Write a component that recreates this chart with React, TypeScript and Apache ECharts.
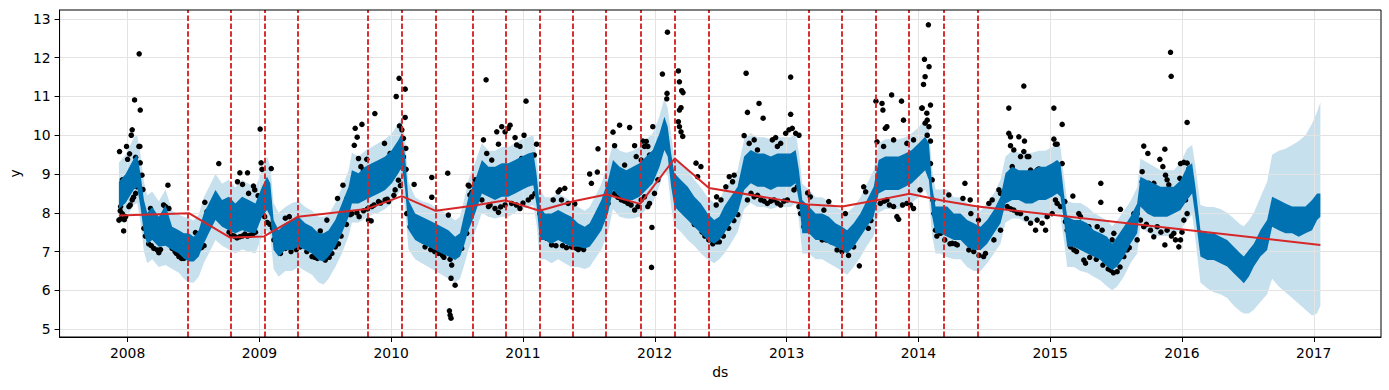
import React, { useEffect, useRef } from "react";
import * as echarts from "echarts";

// ---- axis ticks ----
const xTicks = [2008, 2009, 2010, 2011, 2012, 2013, 2014, 2015, 2016, 2017];
const yTicks = [5, 6, 7, 8, 9, 10, 11, 12, 13];

// ---- forecast band knots (decimal year) ----
const knotX = [
  2007.934, 2007.985, 2008.048, 2008.073, 2008.098, 2008.124, 2008.149, 2008.187, 2008.237, 2008.288,
  2008.338, 2008.389, 2008.427, 2008.465, 2008.502, 2008.54, 2008.578, 2008.616, 2008.667, 2008.717,
  2008.768, 2008.818, 2008.869, 2008.919, 2008.97, 2009.02, 2009.058, 2009.083, 2009.108, 2009.146,
  2009.197, 2009.247, 2009.298, 2009.348, 2009.399, 2009.449, 2009.487, 2009.525, 2009.576, 2009.626,
  2009.677, 2009.702, 2009.752, 2009.803, 2009.853, 2009.904, 2009.954, 2010.005, 2010.055, 2010.081,
  2010.106, 2010.131, 2010.182, 2010.232, 2010.283, 2010.333, 2010.384, 2010.434, 2010.485, 2010.522,
  2010.55, 2010.587, 2010.637, 2010.688, 2010.738, 2010.788, 2010.839, 2010.889, 2010.94, 2010.99,
  2011.04, 2011.078, 2011.103, 2011.128, 2011.166, 2011.217, 2011.267, 2011.317, 2011.368, 2011.418,
  2011.469, 2011.506, 2011.544, 2011.595, 2011.645, 2011.683, 2011.733, 2011.784, 2011.834, 2011.884,
  2011.935, 2011.985, 2012.036, 2012.073, 2012.098, 2012.124, 2012.149, 2012.2, 2012.25, 2012.3,
  2012.35, 2012.401, 2012.451, 2012.489, 2012.527, 2012.577, 2012.628, 2012.678, 2012.728, 2012.779,
  2012.829, 2012.88, 2012.93, 2012.98, 2013.031, 2013.069, 2013.094, 2013.119, 2013.169, 2013.22,
  2013.27, 2013.32, 2013.371, 2013.421, 2013.459, 2013.509, 2013.56, 2013.61, 2013.661, 2013.698,
  2013.749, 2013.799, 2013.85, 2013.9, 2013.95, 2014.001, 2014.051, 2014.08, 2014.105, 2014.13,
  2014.168, 2014.219, 2014.269, 2014.32, 2014.37, 2014.421, 2014.472, 2014.522, 2014.573, 2014.623,
  2014.661, 2014.712, 2014.762, 2014.813, 2014.863, 2014.914, 2014.965, 2015.015, 2015.053, 2015.078,
  2015.104, 2015.129, 2015.18, 2015.23, 2015.281, 2015.331, 2015.382, 2015.432, 2015.47, 2015.508,
  2015.559, 2015.609, 2015.66, 2015.685, 2015.736, 2015.786, 2015.837, 2015.887, 2015.938, 2015.989,
  2016.039, 2016.077, 2016.102, 2016.14, 2016.191, 2016.241, 2016.292, 2016.343, 2016.393, 2016.444,
  2016.469, 2016.507, 2016.545, 2016.595, 2016.646, 2016.684, 2016.734, 2016.785, 2016.836, 2016.886,
  2016.937, 2016.987, 2017.025, 2017.05,
];

// upper envelope of yhat (dark band top)
const yhatHigh = [
  8.8, 9.0, 9.4, 9.5, 9.0, 8.33, 8.0, 8.15, 7.9, 8.2,
  7.64, 7.55, 7.47, 7.47, 7.38, 7.55, 7.98, 8.24, 8.59, 8.33,
  8.41, 8.24, 8.41, 8.33, 8.24, 8.67, 8.93, 8.76, 7.81, 7.55,
  7.73, 7.81, 7.9, 7.73, 7.64, 7.47, 7.47, 7.55, 7.81, 8.24,
  8.67, 9.1, 9.02, 9.19, 9.28, 9.36, 9.45, 9.62, 9.88, 10.05,
  9.45, 8.33, 7.98, 7.9, 7.81, 7.73, 7.64, 7.55, 7.38, 7.47,
  7.9, 8.41, 8.84, 9.36, 9.19, 9.19, 9.28, 9.28, 9.36, 9.45,
  9.53, 9.57, 9.0, 8.16, 7.98, 7.98, 8.07, 7.98, 7.9, 7.73,
  7.64, 7.73, 7.98, 8.33, 8.84, 9.36, 9.19, 9.1, 9.19, 9.28,
  9.45, 9.62, 10.05, 10.48, 10.22, 9.53, 9.02, 8.84, 8.67, 8.41,
  8.24, 7.98, 7.81, 7.9, 8.16, 8.41, 8.67, 9.45, 9.62, 9.53,
  9.53, 9.45, 9.53, 9.53, 9.53, 9.62, 9.1, 8.33, 8.16, 7.98,
  7.98, 7.9, 7.73, 7.64, 7.55, 7.73, 7.98, 8.33, 8.67, 9.36,
  9.45, 9.45, 9.45, 9.53, 9.62, 9.79, 9.96, 9.79, 8.67, 8.16,
  8.16, 8.16, 7.98, 7.98, 7.81, 7.73, 7.64, 7.81, 8.07, 8.41,
  9.02, 9.19, 9.1, 9.1, 9.1, 9.19, 9.19, 9.28, 9.36, 9.28,
  8.5, 7.9, 7.81, 7.81, 7.73, 7.55, 7.47, 7.38, 7.2, 7.38,
  7.64, 7.9, 8.24, 8.93, 8.84, 8.76, 8.67, 8.67, 8.67, 8.84,
  9.19, 9.28, 8.67, 7.55, 7.47, 7.47, 7.38, 7.3, 7.12, 6.95,
  6.87, 7.04, 7.2, 7.55, 7.81, 8.41, 8.33, 8.24, 8.16, 8.16,
  8.16, 8.33, 8.5, 8.5,
];

// lower envelope of yhat (dark band bottom)
const yhatLow = [
  8.1, 8.25, 8.6, 8.65, 8.15, 7.47, 7.2, 7.3, 7.12, 7.15,
  7.04, 6.95, 6.82, 6.74, 6.74, 6.87, 7.2, 7.47, 7.81, 7.64,
  7.55, 7.47, 7.55, 7.5, 7.47, 7.9, 8.07, 7.9, 7.04, 6.87,
  7.04, 7.04, 7.12, 7.04, 6.95, 6.78, 6.74, 6.87, 7.12, 7.47,
  7.9, 8.24, 8.24, 8.33, 8.41, 8.5, 8.59, 8.76, 9.02, 9.19,
  8.6, 7.56, 7.3, 7.2, 7.12, 7.04, 6.95, 6.87, 6.78, 6.87,
  7.12, 7.55, 7.98, 8.5, 8.41, 8.33, 8.41, 8.41, 8.5, 8.59,
  8.67, 8.71, 8.2, 7.3, 7.3, 7.2, 7.3, 7.2, 7.12, 7.12,
  7.08, 7.12, 7.3, 7.55, 7.98, 8.59, 8.41, 8.33, 8.33, 8.41,
  8.59, 8.76, 9.19, 9.62, 9.45, 8.67, 8.16, 7.98, 7.81, 7.64,
  7.47, 7.3, 7.2, 7.3, 7.47, 7.73, 7.98, 8.59, 8.76, 8.67,
  8.67, 8.59, 8.67, 8.67, 8.67, 8.76, 8.3, 7.47, 7.47, 7.3,
  7.3, 7.2, 7.12, 7.04, 6.95, 7.12, 7.38, 7.64, 7.9, 8.5,
  8.59, 8.59, 8.59, 8.67, 8.76, 8.93, 9.1, 8.84, 7.9, 7.47,
  7.47, 7.38, 7.3, 7.3, 7.12, 7.04, 7.04, 7.2, 7.47, 7.73,
  8.24, 8.33, 8.33, 8.24, 8.24, 8.33, 8.33, 8.41, 8.5, 8.41,
  7.81, 7.12, 7.12, 7.04, 6.95, 6.87, 6.78, 6.61, 6.52, 6.61,
  6.87, 7.2, 7.47, 8.16, 7.98, 7.9, 7.9, 7.9, 7.98, 8.07,
  8.33, 8.5, 7.9, 6.87, 6.78, 6.78, 6.7, 6.61, 6.44, 6.27,
  6.18, 6.35, 6.61, 6.87, 7.04, 7.64, 7.55, 7.47, 7.47, 7.38,
  7.47, 7.55, 7.81, 7.9,
];

// uncertainty interval upper bound (light band top)
const yhatUpper = [
  9.3, 9.5, 9.95, 10.0, 9.5, 8.8, 8.45, 8.55, 8.3, 8.6,
  8.05, 7.95, 7.9, 7.85, 7.8, 7.95, 8.4, 8.65, 9.0, 8.75,
  8.85, 8.65, 8.85, 8.75, 8.65, 9.1, 9.45, 9.2, 8.25, 8.0,
  8.15, 8.25, 8.3, 8.15, 8.05, 7.9, 7.9, 7.95, 8.25, 8.65,
  9.1, 9.55, 9.45, 9.6, 9.7, 9.8, 9.9, 10.05, 10.3, 10.45,
  9.9, 8.8, 8.4, 8.3, 8.25, 8.15, 8.05, 7.95, 7.8, 7.9,
  8.3, 8.85, 9.3, 9.8, 9.6, 9.6, 9.7, 9.7, 9.8, 9.9,
  9.95, 10.0, 9.45, 8.6, 8.4, 8.4, 8.5, 8.4, 8.3, 8.15,
  8.05, 8.15, 8.4, 8.75, 9.3, 9.8, 9.6, 9.55, 9.6, 9.7,
  9.9, 10.05, 10.5, 10.95, 10.7, 10.0, 9.45, 9.3, 9.1, 8.85,
  8.65, 8.4, 8.25, 8.3, 8.6, 8.85, 9.1, 9.9, 10.05, 9.95,
  9.95, 9.9, 9.95, 9.95, 9.95, 10.05, 9.55, 8.75, 8.6, 8.4,
  8.4, 8.3, 8.15, 8.05, 8.0, 8.15, 8.4, 8.75, 9.1, 9.8,
  9.9, 9.9, 9.9, 9.95, 10.05, 10.2, 10.4, 10.2, 9.1, 8.6,
  8.6, 8.6, 8.4, 8.4, 8.25, 8.15, 8.05, 8.25, 8.5, 8.85,
  9.45, 9.6, 9.55, 9.55, 9.55, 9.6, 9.6, 9.7, 9.8, 9.7,
  8.95, 8.3, 8.25, 8.25, 8.15, 8.0, 7.9, 7.8, 7.65, 7.8,
  8.05, 8.3, 8.65, 9.4, 9.3, 9.2, 9.1, 9.1, 9.1, 9.3,
  9.65, 9.75, 9.2, 8.2, 8.15, 8.15, 8.1, 8.0, 7.85, 7.7,
  7.65, 7.8, 8.0, 8.4, 8.8, 9.5, 9.6, 9.65, 9.75, 9.85,
  10.0, 10.3, 10.6, 10.85,
];

// uncertainty interval lower bound (light band bottom)
const yhatLower = [
  7.7, 7.85, 8.2, 8.25, 7.75, 7.0, 6.7, 6.8, 6.6, 6.65,
  6.55, 6.45, 6.3, 6.2, 6.2, 6.35, 6.7, 6.95, 7.3, 7.15,
  7.05, 6.95, 7.05, 7.0, 6.95, 7.4, 7.55, 7.4, 6.55, 6.35,
  6.5, 6.5, 6.6, 6.5, 6.4, 6.2, 6.15, 6.3, 6.6, 6.95,
  7.4, 7.75, 7.75, 7.85, 7.95, 8.0, 8.1, 8.25, 8.5, 8.65,
  8.1, 7.05, 6.8, 6.7, 6.6, 6.5, 6.4, 6.3, 6.2, 6.3,
  6.6, 7.05, 7.5, 8.0, 7.9, 7.85, 7.9, 7.9, 8.0, 8.1,
  8.15, 8.2, 7.7, 6.8, 6.8, 6.7, 6.8, 6.7, 6.6, 6.6,
  6.55, 6.6, 6.8, 7.05, 7.5, 8.1, 7.9, 7.85, 7.85, 7.9,
  8.1, 8.25, 8.7, 9.1, 8.95, 8.15, 7.65, 7.5, 7.3, 7.15,
  6.95, 6.8, 6.7, 6.8, 6.95, 7.2, 7.5, 8.1, 8.25, 8.15,
  8.15, 8.1, 8.15, 8.15, 8.15, 8.25, 7.8, 6.95, 6.95, 6.8,
  6.8, 6.7, 6.6, 6.5, 6.4, 6.6, 6.85, 7.15, 7.4, 8.0,
  8.1, 8.1, 8.1, 8.15, 8.25, 8.4, 8.6, 8.35, 7.4, 6.95,
  6.95, 6.85, 6.8, 6.8, 6.6, 6.5, 6.5, 6.7, 6.95, 7.2,
  7.75, 7.85, 7.85, 7.75, 7.75, 7.85, 7.85, 7.9, 8.0, 7.9,
  7.3, 6.6, 6.6, 6.5, 6.45, 6.35, 6.25, 6.1, 6.0, 6.1,
  6.35, 6.7, 6.95, 7.65, 7.5, 7.4, 7.4, 7.4, 7.45, 7.55,
  7.8, 7.95, 7.3, 6.2, 6.05, 5.95, 5.9, 5.8, 5.6, 5.45,
  5.4, 5.4, 5.5, 5.7, 5.9, 6.3, 6.1, 5.95, 5.8, 5.65,
  5.5, 5.35, 5.4, 5.6,
];

// ---- trend and changepoints ----
const trendX = [
  2007.934, 2008.465, 2008.778, 2009.035, 2009.293, 2009.816, 2010.081, 2010.338, 2010.62, 2010.869,
  2011.126, 2011.375, 2011.632, 2011.889, 2012.151, 2012.411, 2013.169, 2013.424, 2013.681, 2013.933,
  2014.188, 2014.449, 2017.05,
];
const trendY = [
  7.93, 7.99, 7.36, 7.39, 7.9, 8.1, 8.43, 8.05, 8.18, 8.32,
  8.05, 8.29, 8.47, 8.23, 9.4, 8.64, 8.21, 8.16, 8.32, 8.49,
  8.31, 8.16, 7.17,
];
const changepoints = [
  2008.465, 2008.778, 2009.035, 2009.293, 2009.816, 2010.081, 2010.338, 2010.62, 2010.869, 2011.126,
  2011.375, 2011.632, 2011.889, 2012.151, 2012.411, 2013.169, 2013.424, 2013.681, 2013.933, 2014.188,
  2014.449,
];

// ---- observed points visible outside the forecast band: [decimal year, y] ----
const observed: [number, number][] = [
  [2007.939, 9.58], [2007.96, 8.85], [2007.992, 9.71], [2008.0, 9.38], [2008.015, 9.52], [2008.028, 10.0],
  [2008.035, 10.14], [2008.053, 10.91], [2008.061, 9.43], [2008.088, 12.1], [2008.096, 10.65], [2008.086, 9.71],
  [2008.093, 9.71], [2008.096, 9.29], [2008.109, 8.97], [2008.116, 8.6], [2007.97, 7.53], [2007.947, 8.16],
  [2007.934, 7.81], [2007.96, 7.98], [2007.985, 7.9], [2008.01, 8.16], [2008.035, 8.33], [2008.061, 8.5],
  [2008.073, 8.67], [2007.944, 8.05], [2007.95, 7.85], [2007.975, 7.82], [2008.02, 8.2], [2008.045, 8.4],
  [2008.124, 7.6], [2008.135, 7.4], [2008.174, 8.11], [2008.306, 8.71], [2008.273, 8.2], [2008.288, 8.16],
  [2008.313, 8.11], [2008.199, 7.08], [2008.225, 7.04], [2008.237, 6.97], [2008.16, 7.2], [2008.18, 7.15],
  [2008.25, 7.05], [2008.338, 7.08], [2008.36, 7.0], [2008.389, 6.87], [2008.427, 6.82], [2008.44, 6.85],
  [2008.515, 7.49], [2008.54, 7.3], [2008.586, 8.27], [2008.603, 8.03], [2008.56, 7.1], [2008.58, 7.15],
  [2008.47, 6.9], [2008.37, 6.95], [2008.41, 6.82], [2008.692, 9.27], [2008.69, 7.9],
  [2008.77, 7.5], [2008.79, 7.42], [2008.81, 7.4], [2008.83, 7.35], [2008.85, 7.38], [2008.87, 7.4],
  [2008.89, 7.45], [2008.91, 7.4], [2008.93, 7.42], [2008.95, 7.45], [2008.97, 7.5],
  [2008.834, 8.8], [2008.852, 9.03], [2008.872, 8.73], [2008.91, 9.03], [2008.918, 8.5], [2008.955, 8.69],
  [2008.965, 8.59], [2008.99, 8.44], [2009.006, 10.16], [2009.013, 9.29], [2009.02, 9.12], [2009.09, 9.14],
  [2009.02, 8.1], [2009.04, 7.9], [2009.06, 7.75], [2009.08, 7.7], [2009.1, 7.6], [2009.11, 7.3],
  [2009.121, 7.47], [2009.146, 7.08], [2009.197, 7.08], [2009.222, 7.64], [2009.197, 7.86], [2009.227, 7.9],
  [2009.26, 7.64], [2009.31, 7.12], [2009.399, 6.87], [2009.462, 7.53], [2009.475, 6.87], [2009.512, 7.81],
  [2009.576, 7.12], [2009.601, 7.64], [2009.593, 8.37], [2009.634, 8.71], [2009.664, 8.37],
  [2009.36, 7.0], [2009.42, 6.85], [2009.44, 6.82], [2009.5, 6.78], [2009.53, 6.85], [2009.55, 6.95],
  [2009.6, 7.2], [2009.62, 7.4], [2009.16, 6.95], [2009.24, 7.0], [2009.28, 7.05],
  [2009.702, 7.98], [2009.727, 8.33], [2009.72, 9.74], [2009.727, 10.18], [2009.742, 9.95], [2009.778, 10.28],
  [2009.752, 9.4], [2009.77, 9.19], [2009.79, 9.1], [2009.815, 9.38], [2009.876, 10.56], [2009.843, 9.06],
  [2009.879, 8.97], [2009.757, 7.9], [2009.828, 7.81], [2009.848, 7.79], [2009.853, 8.16], [2009.904, 8.29],
  [2009.954, 8.33], [2009.98, 8.29], [2009.949, 9.79], [2009.992, 9.53], [2010.038, 11.0], [2010.06, 11.47],
  [2010.106, 11.19], [2010.106, 10.46], [2010.063, 10.24], [2010.081, 10.14], [2010.093, 9.92], [2010.111, 9.66],
  [2010.093, 9.44], [2010.068, 9.19], [2010.03, 8.59], [2010.055, 8.84], [2010.113, 9.12],
  [2009.66, 7.7], [2009.69, 7.95], [2009.74, 8.0], [2009.79, 8.05], [2009.82, 8.1], [2009.87, 8.2],
  [2009.92, 8.25], [2009.97, 8.35], [2010.02, 8.45], [2010.07, 8.7],
  [2010.174, 8.73], [2010.308, 8.91], [2010.308, 8.4], [2010.118, 7.98], [2010.144, 7.64], [2010.194, 7.55],
  [2010.219, 7.37], [2010.257, 7.12], [2010.283, 7.47], [2010.429, 9.02], [2010.434, 7.94], [2010.447, 6.8],
  [2010.459, 6.65], [2010.454, 6.31], [2010.485, 6.13], [2010.442, 5.47], [2010.447, 5.36], [2010.454, 5.28],
  [2010.472, 7.04], [2010.497, 6.95], [2010.535, 7.08], [2010.573, 7.47], [2010.585, 8.71], [2010.597, 8.46],
  [2010.3, 7.05], [2010.33, 7.0], [2010.36, 6.95], [2010.39, 6.9], [2010.4, 6.85],
  [2010.562, 7.47], [2010.592, 8.69], [2010.612, 8.53], [2010.637, 8.85], [2010.65, 8.67], [2010.7, 9.88],
  [2010.72, 11.43], [2010.725, 9.53], [2010.763, 9.36], [2010.801, 10.09], [2010.814, 9.77], [2010.839, 10.22],
  [2010.864, 10.09], [2010.889, 10.18], [2010.902, 10.26], [2010.94, 9.94], [2010.952, 9.75], [2010.977, 9.71],
  [2011.008, 10.0], [2011.023, 10.88], [2010.99, 9.4], [2011.103, 9.77], [2011.086, 9.49],
  [2010.688, 8.33], [2010.738, 8.16], [2010.788, 8.11], [2010.814, 8.01], [2010.864, 8.2], [2010.914, 8.24],
  [2010.977, 8.11], [2011.04, 8.33], [2011.066, 8.41], [2011.091, 8.5], [2010.75, 8.2], [2010.83, 8.15],
  [2010.95, 8.2], [2011.0, 8.25],
  [2011.128, 7.98], [2011.141, 7.47], [2011.179, 7.34], [2011.204, 7.3], [2011.217, 7.17], [2011.229, 8.33],
  [2011.267, 8.54], [2011.28, 8.59], [2011.317, 8.63], [2011.292, 8.33], [2011.343, 8.24], [2011.393, 8.23],
  [2011.368, 7.12], [2011.406, 7.08], [2011.443, 7.12], [2011.481, 7.21], [2011.506, 9.0], [2011.519, 8.76],
  [2011.564, 9.05], [2011.569, 9.65], [2011.532, 7.47], [2011.557, 7.55], [2011.595, 7.9], [2011.607, 8.07],
  [2011.25, 7.15], [2011.3, 7.15], [2011.33, 7.1], [2011.42, 7.05], [2011.46, 7.05],
  [2011.645, 8.24], [2011.683, 10.08], [2011.695, 9.73], [2011.733, 10.26], [2011.771, 9.23], [2011.809, 10.2],
  [2011.847, 9.73], [2011.859, 9.45], [2011.897, 9.36], [2011.91, 9.85], [2011.922, 9.71], [2011.935, 9.84],
  [2011.947, 9.71], [2011.96, 9.49], [2011.985, 9.45], [2011.985, 10.22],
  [2011.695, 8.5], [2011.746, 8.33], [2011.796, 8.24], [2011.847, 8.07], [2011.872, 8.16], [2011.897, 8.33],
  [2011.922, 8.41], [2011.947, 8.16], [2011.72, 8.4], [2011.77, 8.3], [2011.82, 8.2],
  [2011.978, 7.62], [2011.975, 6.59], [2011.96, 8.24], [2011.998, 8.5], [2012.023, 8.85],
  [2012.058, 11.58], [2012.096, 12.66], [2012.093, 11.08], [2012.091, 10.94], [2012.061, 9.71],
  [2012.179, 11.66], [2012.187, 11.38], [2012.204, 11.15], [2012.214, 11.1], [2012.199, 10.71], [2012.187, 10.65],
  [2012.179, 10.35], [2012.187, 10.22], [2012.199, 10.09], [2012.212, 9.97], [2012.313, 9.28], [2012.35, 9.19],
  [2012.325, 8.93],
  [2012.16, 8.5], [2012.19, 8.3], [2012.22, 8.25], [2012.26, 8.0], [2012.29, 7.85], [2012.3, 7.7],
  [2012.33, 7.65], [2012.36, 7.5], [2012.38, 7.4], [2012.41, 7.3], [2012.44, 7.2], [2012.47, 7.25],
  [2012.469, 8.41], [2012.466, 8.2], [2012.502, 8.33], [2012.539, 8.67], [2012.565, 8.93], [2012.59, 8.8],
  [2012.602, 8.97], [2012.49, 7.25], [2012.52, 7.4], [2012.56, 7.6], [2012.6, 7.8], [2012.63, 7.95],
  [2012.678, 9.99], [2012.693, 11.6], [2012.703, 10.59], [2012.791, 10.82], [2012.822, 10.44], [2012.754, 9.88],
  [2012.716, 9.79], [2012.779, 9.62], [2012.892, 9.88], [2012.917, 9.94], [2012.93, 9.71], [2012.955, 9.79],
  [2012.993, 10.05], [2013.018, 10.14], [2013.031, 11.5], [2013.031, 10.54], [2013.043, 10.18], [2013.069, 10.05],
  [2013.094, 10.0],
  [2012.703, 8.33], [2012.754, 8.41], [2012.804, 8.33], [2012.854, 8.24], [2012.905, 8.33], [2012.955, 8.2],
  [2013.006, 8.33], [2013.056, 8.59], [2013.081, 8.67], [2012.73, 8.5], [2012.78, 8.45], [2012.83, 8.3],
  [2012.88, 8.3], [2012.93, 8.25], [2012.98, 8.3],
  [2013.094, 8.16], [2013.106, 7.98], [2013.131, 7.64], [2013.182, 7.55], [2013.207, 7.9], [2013.257, 7.47],
  [2013.27, 7.3], [2013.308, 7.47], [2013.32, 8.29], [2013.283, 8.07], [2013.383, 7.04], [2013.446, 7.98],
  [2013.509, 7.12], [2013.552, 6.63], [2013.585, 8.67], [2013.6, 8.54], [2013.16, 8.51], [2013.18, 8.41],
  [2013.3, 7.3], [2013.34, 7.25], [2013.42, 7.0], [2013.47, 6.9], [2013.62, 7.6], [2013.64, 7.8],
  [2013.678, 10.88], [2013.724, 10.82], [2013.731, 10.65], [2013.797, 11.04], [2013.872, 10.88], [2013.749, 10.18],
  [2013.761, 10.22], [2013.686, 9.83], [2013.736, 9.71], [2013.741, 9.32], [2013.812, 9.88], [2013.887, 10.39],
  [2013.913, 9.79], [2013.963, 9.88], [2014.026, 10.7], [2014.039, 11.31], [2014.046, 11.96], [2014.051, 11.51],
  [2014.076, 12.85], [2014.081, 11.77], [2014.064, 10.57], [2014.051, 10.31],
  [2013.711, 8.24], [2013.761, 8.33], [2013.812, 8.16], [2013.837, 7.9], [2013.85, 7.83], [2013.913, 8.24],
  [2013.963, 8.11], [2014.013, 8.59], [2013.74, 8.3], [2013.78, 8.2], [2013.88, 8.2], [2013.94, 8.2],
  [2014.092, 10.78], [2014.029, 10.7], [2014.067, 10.39], [2014.08, 10.22], [2014.067, 10.0], [2014.092, 9.85],
  [2014.042, 9.71], [2014.092, 9.27], [2014.105, 8.85], [2014.11, 8.33],
  [2014.118, 7.98], [2014.13, 7.55], [2014.168, 7.47], [2014.193, 7.55], [2014.231, 8.46], [2014.257, 7.21],
  [2014.295, 7.17], [2014.333, 7.47], [2014.338, 8.37], [2014.353, 8.76], [2014.393, 8.33], [2014.398, 7.98],
  [2014.383, 7.04], [2014.456, 7.81], [2014.495, 6.87], [2014.509, 6.95], [2014.535, 8.24], [2014.56, 8.33],
  [2014.611, 8.59], [2014.623, 8.5], [2014.573, 7.3], [2014.623, 7.55],
  [2014.14, 7.4], [2014.2, 7.3], [2014.24, 7.2], [2014.28, 7.2], [2014.42, 7.0], [2014.46, 6.9],
  [2014.686, 10.7], [2014.686, 10.05], [2014.699, 9.96], [2014.699, 9.73], [2014.724, 9.62], [2014.712, 9.19],
  [2014.762, 9.96], [2014.8, 11.27], [2014.805, 9.85], [2014.8, 9.58], [2014.826, 9.45], [2014.838, 9.45],
  [2014.775, 9.45], [2014.851, 9.1], [2014.876, 9.02], [2014.901, 9.1], [2014.914, 9.13], [2014.952, 8.85],
  [2014.972, 9.06], [2015.028, 10.7], [2015.028, 9.9], [2015.04, 9.77], [2015.053, 9.77], [2015.091, 10.28],
  [2015.091, 9.27],
  [2014.674, 8.16], [2014.724, 8.07], [2014.775, 7.98], [2014.851, 7.73], [2014.889, 7.55], [2014.901, 7.81],
  [2014.939, 7.73], [2014.965, 7.55], [2014.977, 7.9], [2015.015, 7.98], [2015.04, 8.33], [2015.053, 8.24],
  [2015.078, 8.16], [2014.7, 8.1], [2014.75, 8.0], [2014.82, 7.85],
  [2015.111, 8.29], [2015.116, 7.77], [2015.129, 7.55], [2015.172, 8.43], [2015.154, 7.12], [2015.18, 7.04],
  [2015.217, 7.98], [2015.23, 7.9], [2015.255, 6.78], [2015.268, 6.7], [2015.293, 7.64], [2015.331, 6.95],
  [2015.357, 7.64], [2015.384, 8.76], [2015.384, 8.27], [2015.394, 7.55], [2015.432, 6.78], [2015.458, 6.52],
  [2015.508, 6.48], [2015.47, 7.3], [2015.483, 7.47], [2015.533, 8.09], [2015.559, 6.87], [2015.584, 7.04],
  [2015.635, 7.98], [2015.66, 7.3],
  [2015.2, 7.0], [2015.3, 6.85], [2015.35, 6.8], [2015.4, 6.65], [2015.44, 6.55], [2015.48, 6.45],
  [2015.53, 6.6], [2015.6, 7.1],
  [2015.71, 9.72], [2015.741, 9.53], [2015.698, 9.06], [2015.698, 8.8], [2015.748, 8.76], [2015.786, 8.76],
  [2015.832, 9.38], [2015.87, 9.64], [2015.855, 9.19], [2015.875, 8.97], [2015.887, 8.85], [2015.9, 8.72],
  [2015.913, 12.14], [2015.918, 11.52], [2015.989, 9.27], [2016.014, 9.3], [2016.039, 10.33], [2016.039, 9.28],
  [2016.052, 9.13], [2015.984, 8.89],
  [2015.66, 7.98], [2015.685, 7.81], [2015.71, 7.64], [2015.761, 7.55], [2015.786, 7.38], [2015.812, 7.64],
  [2015.87, 7.17], [2015.887, 7.55], [2015.938, 7.47], [2015.951, 7.3], [2015.976, 7.12], [2015.989, 7.3],
  [2016.014, 7.81], [2016.039, 7.98], [2016.027, 8.33], [2015.73, 7.7], [2015.84, 7.5], [2015.92, 7.4],
  [2016.0, 7.5],
];

const DARK = "#0072B2";
const LIGHT = "rgba(0,114,178,0.22)";
const RED = "#d62728";
const FONT = "DejaVu Sans";

function bandSeries(hi: number[], lo: number[], fill: string, z: number) {
  return {
    type: "custom",
    z,
    silent: true,
    clip: true,
    data: [[knotX[0], hi[0]]],
    renderItem: (_params: any, api: any) => {
      const pts: number[][] = [];
      for (let i = 0; i < knotX.length; i++) pts.push(api.coord([knotX[i], hi[i]]));
      for (let i = knotX.length - 1; i >= 0; i--) pts.push(api.coord([knotX[i], lo[i]]));
      return { type: "polygon", shape: { points: pts }, style: { fill, stroke: null } };
    },
  };
}

export default function App() {
  const ref = useRef<HTMLDivElement>(null);
  useEffect(() => {
    if (!ref.current) return;
    const chart = echarts.init(ref.current, undefined, { renderer: "svg" });
    chart.setOption({
      animation: false,
      backgroundColor: "#ffffff",
      grid: {
        left: 57,
        right: 8,
        top: 10,
        bottom: 53,
        show: true,
        borderColor: "#000",
        borderWidth: 1,
        backgroundColor: "transparent",
        z: 10,
      },
      xAxis: {
        type: "value",
        min: 2007.484,
        max: 2017.51,
        name: "ds",
        nameLocation: "middle",
        nameGap: 28,
        nameTextStyle: { color: "#000", fontSize: 13.9, fontFamily: FONT },
        axisLine: { show: true, lineStyle: { color: "#000", width: 1 } },
        axisTick: { show: true, length: 5, customValues: xTicks, lineStyle: { color: "#000" } },
        axisLabel: {
          customValues: xTicks,
          color: "#000",
          fontSize: 13.9,
          fontFamily: FONT,
          margin: 9,
          formatter: (v: number) => String(v),
        },
        splitLine: { show: false },
      },
      yAxis: {
        type: "value",
        min: 4.794,
        max: 13.232,
        name: "y",
        nameLocation: "middle",
        nameGap: 34,
        nameRotate: 90,
        nameTextStyle: { color: "#000", fontSize: 13.9, fontFamily: FONT },
        axisLine: { show: true, lineStyle: { color: "#000", width: 1 } },
        axisTick: { show: true, length: 5, customValues: yTicks, lineStyle: { color: "#000" } },
        axisLabel: {
          customValues: yTicks,
          color: "#000",
          fontSize: 13.9,
          fontFamily: FONT,
          margin: 9,
          formatter: (v: number) => String(v),
        },
        splitLine: { show: false },
      },
      series: [
        bandSeries(yhatUpper, yhatLower, LIGHT, 1),
        {
          type: "line",
          data: [],
          silent: true,
          markLine: {
            silent: true,
            z: 2,
            symbol: ["none", "none"],
            label: { show: false },
            lineStyle: { color: "#e3e3e3", width: 1, type: "solid" },
            emphasis: { disabled: true },
            data: [
              ...xTicks.map((v) => ({ xAxis: v })),
              ...yTicks.map((v) => ({ yAxis: v })),
            ],
          },
        },
        {
          type: "scatter",
          z: 3,
          silent: true,
          symbolSize: 5.5,
          itemStyle: { color: "#000", opacity: 1 },
          data: observed,
        },
        bandSeries(yhatHigh, yhatLow, DARK, 4),
        {
          type: "line",
          z: 5,
          silent: true,
          showSymbol: false,
          lineStyle: { color: RED, width: 2 },
          data: trendX.map((x, i) => [x, trendY[i]]),
        },
        {
          type: "line",
          data: [],
          silent: true,
          markLine: {
            silent: true,
            z: 6,
            symbol: ["none", "none"],
            label: { show: false },
            lineStyle: { color: RED, width: 1.9, type: [5.5, 2.4] },
            emphasis: { disabled: true },
            data: changepoints.map((v) => ({ xAxis: v })),
          },
        },
      ],
    });
    return () => chart.dispose();
  }, []);
  return (
    <div
      ref={ref}
      style={{ position: "absolute", left: 0, top: 0, width: "1389px", height: "390px" }}
    />
  );
}
